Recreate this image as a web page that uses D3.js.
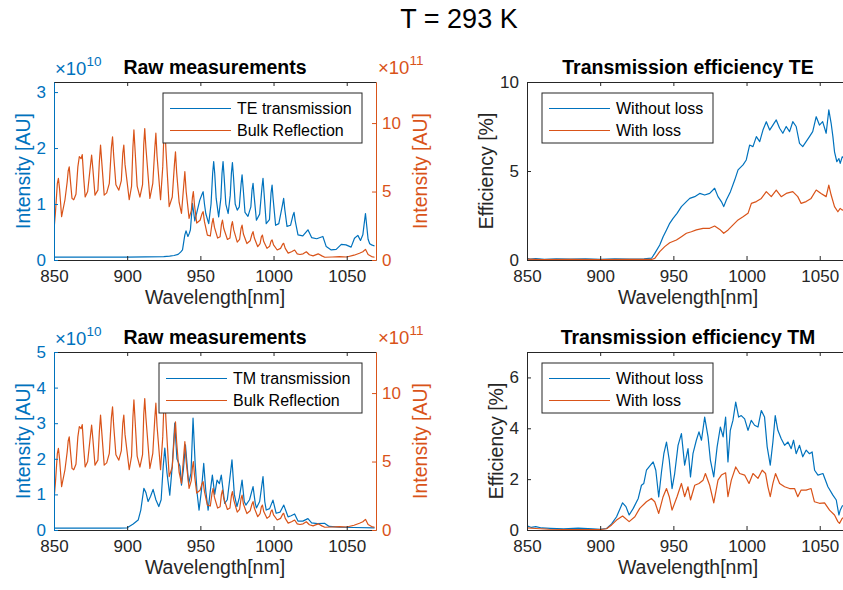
<!DOCTYPE html>
<html>
<head>
<meta charset="utf-8">
<script src="https://cdn.jsdelivr.net/npm/d3@7"></script>
<style>
body { margin: 0; background: #fff; }
svg { font-family: "Liberation Sans", Arial, sans-serif; }
</style>
</head>
<body>
<svg id="fig" width="843" height="590"></svg>
<script>
// T = 293 K : raw spectra and transmission efficiency, TE and TM

var xTicks = [850, 900, 950, 1000, 1050];

// Bulk reflection, units of 1e11 AU (same reference in both raw panels)
var bulkReflection = [[850,2.2],[851,3.5],[852.3,5.6],[853,5.96],[853.8,5.2],[855.2,3.16],[857.5,4.4],[859,5.7],[859.7,6.5],[860.4,6.8],[861.2,5.8],[862.3,4.5],[863.5,4.4],[865,4.8],[866.3,6.8],[867.3,7.55],[868.5,7.4],[869.3,7.7],[870.3,6.0],[871.3,4.6],[873,5.0],[874.5,6.5],[875.7,7.66],[876.6,6.6],[878,4.74],[880,5.1],[881,7.2],[881.8,8.4],[882.6,7.2],[884.3,4.74],[886,4.9],[887.8,5.6],[889.2,8.2],[890,9.0],[890.8,7.6],[892.3,5.5],[894.3,5.1],[896,5.8],[897,7.8],[897.7,8.4],[898.5,7.0],[901.4,4.4],[903,5.4],[903.9,8.2],[904.6,9.5],[905.4,8.0],[906.8,5.4],[908.7,4.6],[910.5,5.5],[911.3,8.4],[912,9.6],[912.8,8.2],[915.5,4.5],[917.5,5.6],[918.9,8.2],[919.6,9.26],[920.4,7.6],[922.8,4.4],[924.3,6.8],[925.1,9.2],[925.7,9.8],[926.5,8.0],[928.7,3.9],[930.8,4.6],[932.3,7.0],[933,7.9],[933.8,6.4],[935.5,4.2],[937.1,3.4],[938.6,5.4],[939.4,6.45],[940.3,5.0],[942.3,3.04],[943.8,3.6],[944.6,4.6],[945.2,5.0],[946,4.0],[947.5,2.7],[949.8,2.9],[951.2,3.4],[951.9,3.53],[952.8,2.8],[954.8,1.82],[956.8,1.75],[958,2.7],[958.7,3.04],[959.6,2.4],[961.8,1.6],[963.5,1.7],[964.4,2.6],[965.1,2.92],[966,2.3],[968.5,1.5],[970.2,1.6],[971.2,2.5],[971.9,2.8],[972.8,2.2],[975.2,1.3],[976.8,1.5],[977.8,2.3],[978.5,2.55],[979.4,1.9],[981.8,1.2],[984,1.4],[985.3,1.9],[986,2.07],[986.9,1.6],[989.2,0.97],[990.8,1.2],[991.7,1.7],[992.4,1.82],[993.3,1.35],[995.5,0.85],[997.3,1.0],[998.3,1.38],[999,1.46],[1000,1.1],[1002.5,0.73],[1004.8,0.85],[1006.2,1.15],[1006.9,1.22],[1008,0.85],[1010,0.5],[1012.3,0.6],[1014.4,0.73],[1016.2,0.45],[1018,0.4],[1020.2,0.45],[1022.4,0.6],[1024.5,0.38],[1027,0.3],[1030.5,0.45],[1033,0.3],[1035,0.2],[1040,0.22],[1045,0.25],[1050,0.22],[1055,0.35],[1058.7,0.49],[1061,0.6],[1062.8,0.78],[1064.6,0.4],[1067,0.25],[1069,0.2]];

// TE transmission, units of 1e10 AU
var teTransmission = [[850,0.05],[900,0.05],[925,0.06],[929,0.07],[932,0.08],[934.8,0.1],[936.5,0.14],[937.8,0.18],[938.8,0.35],[939.4,0.45],[940.2,0.52],[941.5,0.42],[942.5,0.48],[943.2,0.54],[944.6,1.01],[946.2,0.7],[947.6,0.85],[949.6,1.07],[951.2,1.18],[951.9,1.22],[952.8,1.0],[953.7,0.83],[955.7,0.65],[957.3,1.0],[958.4,1.55],[959.1,1.76],[959.8,1.55],[960.8,1.1],[962.5,0.77],[964,1.1],[964.8,1.55],[965.5,1.76],[966.2,1.5],[967.4,1.0],[969,0.83],[970.4,1.15],[971.2,1.55],[971.9,1.74],[972.6,1.5],[973.8,1.0],[975.2,0.89],[976.6,0.95],[977.8,1.35],[978.5,1.52],[979.2,1.3],[980.5,0.85],[982.5,0.78],[984.5,0.95],[985.3,1.25],[986,1.37],[986.7,1.15],[988.3,0.71],[990.5,0.82],[992.1,1.3],[992.8,1.46],[993.5,1.2],[995,0.65],[997.2,0.72],[998.3,1.2],[999,1.34],[999.7,1.1],[1001.4,0.62],[1003.6,0.65],[1006.2,1.0],[1006.9,1.1],[1007.7,0.9],[1009.2,0.6],[1011.6,0.62],[1013.3,0.8],[1014,0.85],[1014.8,0.7],[1016.7,0.45],[1020,0.43],[1023.5,0.54],[1026,0.4],[1029.5,0.38],[1033.7,0.42],[1036,0.24],[1039.4,0.18],[1042.8,0.19],[1046.3,0.28],[1049.5,0.27],[1053,0.23],[1055.3,0.39],[1057.6,0.44],[1059.4,0.35],[1061,0.45],[1062.8,0.83],[1064.6,0.37],[1065.7,0.29],[1067,0.27],[1069,0.25]];

// TM transmission, units of 1e10 AU
var tmTransmission = [[850,0.05],[895,0.05],[900,0.06],[904.1,0.17],[907.5,0.28],[909.3,0.56],[911.4,1.17],[912.8,1.05],[914.3,0.8],[916,0.95],[917.7,1.14],[919.6,0.85],[921.6,0.66],[923.2,0.85],[924.6,1.78],[925.7,2.3],[927.2,1.6],[929.1,0.98],[930.8,1.8],[932.5,3.0],[934,2.0],[936,1.8],[937.1,1.26],[938.4,1.7],[939.8,2.39],[942,1.3],[943.6,1.6],[945,3.14],[946.4,1.9],[947.8,1.03],[949.1,0.56],[950.7,1.1],[952.3,1.87],[953.7,1.1],[955.3,0.56],[956.8,1.1],[958.2,1.54],[959.8,1.0],[961.4,1.4],[963,1.3],[964.3,1.54],[966.6,0.75],[968.4,0.85],[970,1.4],[971.6,1.97],[973.2,1.0],[975,0.66],[976.6,0.9],[978.5,1.4],[980,0.8],[981.1,0.7],[983.6,0.85],[986,1.22],[987.5,0.75],[988.3,0.62],[990.5,0.8],[992.8,1.5],[994,0.8],[995,0.56],[997.3,0.6],[999.6,0.84],[1001.8,0.47],[1004.4,0.5],[1007,0.7],[1009.9,0.37],[1012,0.4],[1014.4,0.45],[1016.7,0.25],[1020,0.25],[1023.5,0.32],[1026,0.2],[1030,0.18],[1034.8,0.19],[1038,0.1],[1045,0.08],[1055,0.07],[1069,0.06]];

// Efficiency TE, percent
var effTeNoLoss = [[850,0.1],[852,0.05],[856,0.08],[862,0.04],[870,0.06],[880,0.05],[890,0.07],[900,0.04],[910,0.06],[920,0.05],[930,0.07],[935.1,0.1],[937.3,0.37],[940.7,0.84],[943,1.31],[945.3,1.69],[947.5,2.06],[949.8,2.34],[952.5,2.62],[955.5,3.0],[958.9,3.28],[961.2,3.46],[964.6,3.56],[968,3.74],[971.4,3.65],[974.8,3.74],[978.2,4.03],[980.5,3.56],[982.8,3.28],[984.4,3.0],[986.2,3.37],[989,3.84],[991.9,4.49],[994.2,5.06],[997.6,5.34],[999.8,5.62],[1002.1,6.46],[1004.4,6.37],[1006.7,6.93],[1009,6.65],[1011.2,7.3],[1013.5,7.77],[1015.8,7.3],[1018,7.58],[1020.3,7.87],[1022.6,7.4],[1024.8,7.12],[1027.1,7.5],[1029.4,7.21],[1031.6,7.77],[1033.9,7.5],[1036.2,6.55],[1038.4,6.37],[1040.7,6.65],[1043,6.93],[1045.2,7.21],[1047.6,8.05],[1049.8,7.58],[1052,7.77],[1054.4,7.12],[1056.2,8.43],[1057.8,7.68],[1059,6.93],[1060.1,6.08],[1061.7,5.52],[1063.1,5.7],[1064,5.43],[1065.4,5.8],[1067,5.7],[1069,5.9]];
var effTeLoss = [[850,0.05],[860,0.02],[880,0.03],[900,0.02],[920,0.03],[935,0.03],[937.3,0.09],[940.7,0.47],[944.1,0.75],[947.5,0.97],[952.1,1.12],[955.5,1.31],[958.9,1.5],[962.3,1.59],[965.7,1.69],[970.3,1.78],[974.8,1.78],[978.2,1.91],[981.7,1.72],[984.4,1.5],[987.4,1.69],[990.8,1.97],[994.2,2.25],[997.6,2.43],[1001,2.62],[1003.3,3.18],[1006.7,3.28],[1010.1,3.46],[1013.5,3.84],[1016.9,3.56],[1020.3,3.93],[1023.7,3.56],[1027.1,3.74],[1031.6,3.84],[1035,3.56],[1037.3,3.18],[1040.7,3.28],[1044.1,3.46],[1047.6,3.93],[1050.9,3.74],[1054.4,3.56],[1056.2,4.21],[1057.8,3.65],[1060.1,3.0],[1062.4,2.71],[1064,2.9],[1065.4,2.8],[1067,2.85],[1069,2.9]];

// Efficiency TM, percent
var effTmNoLoss = [[850,0.16],[853,0.1],[856,0.13],[860,0.08],[866,0.065],[875,0.05],[885,0.07],[895,0.05],[900,0.03],[904.4,0.06],[907.8,0.24],[911.2,0.52],[915.3,1.07],[917.6,0.92],[919.8,0.59],[922.6,0.85],[926,1.24],[928.2,1.76],[929.8,1.83],[931.6,2.35],[933.4,2.48],[936.2,2.68],[938,2.35],[940,1.3],[941.9,2.29],[943.5,3.0],[945.3,3.46],[947.2,2.75],[949.1,1.63],[950.9,2.22],[953.2,3.33],[955.5,3.79],[957.7,2.55],[960,3.2],[961.7,2.09],[963.4,3.0],[965.7,3.53],[967.5,3.86],[969.2,3.53],[971.4,4.44],[973.7,3.66],[975.3,2.75],[977.6,2.09],[979.9,3.27],[982.1,4.05],[984,3.66],[985.7,4.44],[987.3,2.68],[988.9,3.92],[990.7,4.31],[992.6,5.03],[994.6,4.44],[996.4,4.5],[998.7,4.37],[1001,3.92],[1003.2,4.31],[1005.5,4.12],[1007.8,4.05],[1010.1,4.7],[1012.3,4.44],[1014.1,3.27],[1016.2,2.55],[1018,3.46],[1019.6,4.5],[1021.4,3.92],[1023.7,3.59],[1026,3.33],[1028.3,3.46],[1030.5,3.2],[1032.1,3.53],[1033.9,3.0],[1036.2,3.33],[1038.4,2.88],[1040.7,3.14],[1043,3.0],[1044.8,3.07],[1046.5,2.35],[1048.8,2.16],[1052.2,2.22],[1055.6,1.7],[1059,1.37],[1061.3,1.18],[1063.1,0.59],[1064,0.78],[1065.4,0.94],[1067,1.0],[1069,1.05]];
var effTmLoss = [[850,0.08],[856,0.06],[865,0.03],[880,0.02],[900,0.02],[904.4,0.05],[907.8,0.2],[911.2,0.39],[915.3,0.55],[919.8,0.33],[923.7,0.52],[927,0.85],[931.6,1.11],[935,1.24],[937.3,1.11],[940,0.65],[943,1.31],[945.3,1.63],[947.2,1.31],[949.1,0.78],[952.5,1.31],[955.5,1.83],[957.7,1.31],[960,1.7],[961.7,1.18],[964.6,1.76],[967.5,1.83],[970.3,1.96],[971.9,2.22],[974.8,1.76],[977.6,1.07],[980.5,1.96],[982.8,2.16],[985.7,2.25],[987.3,1.31],[989.6,1.96],[992.6,2.48],[995.3,2.22],[998.7,2.16],[1001.7,1.83],[1004.4,2.22],[1007.8,2.03],[1010.7,2.35],[1013,2.22],[1014.6,1.7],[1016.2,1.31],[1018,1.83],[1019.8,2.22],[1022.6,1.83],[1026,1.7],[1029.4,1.63],[1032.8,1.63],[1035,1.31],[1037.3,1.57],[1040.7,1.57],[1044.1,1.63],[1046.4,1.11],[1049.8,1.05],[1053.3,1.07],[1056.7,0.78],[1060.1,0.59],[1062.4,0.33],[1063.5,0.26],[1065.4,0.46],[1067,0.5],[1069,0.5]];

var blue = "#0072BD", orange = "#D95319", dark = "#262626";
var tickFont = "17px", labelFont = "19.5px", legendFont = "16px";
var W = 322, H = 178;
var fmt = d3.format("d");

var svg = d3.select("#fig");

svg.append("text")
	.attr("x", 459).attr("y", 28)
	.attr("text-anchor", "middle")
	.attr("font-size", "27px")
	.attr("fill", "#000")
	.text("T = 293 K");

function styleAxis(sel, color, textColor) {
	sel.attr("font-size", null).attr("font-family", null);
	sel.select(".domain").attr("stroke", color).attr("stroke-width", 1);
	sel.selectAll(".tick line").attr("stroke", color).attr("stroke-width", 1);
	sel.selectAll(".tick text").attr("fill", textColor).style("font-size", tickFont);
}

function drawPanel(p) {
	var g = svg.append("g");
	var left = p.left, top = p.top, bottom = top + H, right = left + W;

	var x = d3.scaleLinear().domain([850, 1070]).range([left, right]);
	var yL = d3.scaleLinear().domain(p.yDomain).range([bottom, top]);
	var yR = p.rDomain ? d3.scaleLinear().domain(p.rDomain).range([bottom, top]) : null;

	svg.append("clipPath").attr("id", "clip-" + p.id)
		.append("rect").attr("x", left).attr("y", top).attr("width", W).attr("height", H);

	var plot = g.append("g").attr("clip-path", "url(#clip-" + p.id + ")");
	p.series.forEach(s => {
		var y = s.right ? yR : yL;
		plot.append("path")
			.datum(s.data)
			.attr("fill", "none")
			.attr("stroke", s.color)
			.attr("stroke-width", 1.2)
			.attr("stroke-linejoin", "round")
			.attr("d", d3.line().x(d => x(d[0])).y(d => y(d[1])));
	});

	// box: bottom/top gray, sides coloured for yyaxis
	var ax = g.append("g").attr("transform", "translate(0," + bottom + ")")
		.call(d3.axisBottom(x).tickValues(xTicks).tickFormat(fmt).tickSizeInner(-4).tickSizeOuter(0).tickPadding(10));
	styleAxis(ax, dark, dark);
	var axTop = g.append("g").attr("transform", "translate(0," + top + ")")
		.call(d3.axisTop(x).tickValues(xTicks).tickSizeInner(-4).tickSizeOuter(0).tickFormat(""));
	styleAxis(axTop, dark, dark);

	var ayL = g.append("g").attr("transform", "translate(" + left + ",0)")
		.call(d3.axisLeft(yL).tickValues(p.yTicks).tickFormat(fmt).tickSizeInner(-4).tickSizeOuter(0).tickPadding(8));
	styleAxis(ayL, p.leftColor, p.leftColor);

	if (yR) {
		var ayR = g.append("g").attr("transform", "translate(" + right + ",0)")
			.call(d3.axisRight(yR).tickValues(p.rTicks).tickFormat(fmt).tickSizeInner(-4).tickSizeOuter(0).tickPadding(6));
		styleAxis(ayR, orange, orange);
	} else {
		var ayR2 = g.append("g").attr("transform", "translate(" + right + ",0)")
			.call(d3.axisRight(yL).tickValues(p.yTicks).tickSizeInner(-4).tickSizeOuter(0).tickFormat(""));
		styleAxis(ayR2, dark, dark);
	}

	// titles and labels
	g.append("text")
		.attr("x", (left + right) / 2).attr("y", top - 8.5)
		.attr("text-anchor", "middle")
		.attr("font-size", labelFont).attr("font-weight", "bold")
		.attr("fill", "#000")
		.text(p.title);

	g.append("text")
		.attr("x", (left + right) / 2).attr("y", bottom + 44)
		.attr("text-anchor", "middle")
		.attr("font-size", labelFont).attr("fill", dark)
		.text("Wavelength[nm]");

	g.append("text")
		.attr("transform", "translate(" + p.yLabelX + "," + (top + H / 2) + ") rotate(-90)")
		.attr("text-anchor", "middle")
		.attr("font-size", labelFont).attr("fill", p.leftColor)
		.text(p.yLabel);

	if (yR) {
		g.append("text")
			.attr("transform", "translate(" + (right + 51) + "," + (top + H / 2) + ") rotate(-90)")
			.attr("text-anchor", "middle")
			.attr("font-size", labelFont).attr("fill", orange)
			.text("Intensity [AU]");
	}

	// exponent labels
	if (p.leftExp) {
		var t1 = g.append("text").attr("x", left + 1).attr("y", top - 7)
			.attr("font-size", "18.5px").attr("fill", blue);
		t1.append("tspan").text("\u00d710");
		t1.append("tspan").attr("dy", -9).attr("font-size", "13.5px").text(p.leftExp);
	}
	if (p.rightExp) {
		var t2 = g.append("text").attr("x", right + 2).attr("y", top - 8)
			.attr("font-size", "18.5px").attr("fill", orange);
		t2.append("tspan").text("\u00d710");
		t2.append("tspan").attr("dy", -9).attr("font-size", "13.5px").text(p.rightExp);
	}

	// legend
	var L = p.legend;
	var lg = g.append("g");
	lg.append("rect")
		.attr("x", L.x).attr("y", L.y).attr("width", L.w).attr("height", 50)
		.attr("fill", "#fff").attr("stroke", dark).attr("stroke-width", 1);
	p.series.forEach((s, i) => {
		var cy = L.y + 15.5 + i * 22;
		lg.append("line")
			.attr("x1", L.x + 7).attr("x2", L.x + 68)
			.attr("y1", cy).attr("y2", cy)
			.attr("stroke", s.color).attr("stroke-width", 1.2);
		lg.append("text")
			.attr("x", L.x + 74).attr("y", cy + 5.8)
			.attr("font-size", legendFont).attr("fill", "#000")
			.text(s.name);
	});
}

drawPanel({
	id: "rawTE", left: 54, top: 82, title: "Raw measurements",
	yDomain: [0, 3.18], yTicks: [0, 1, 2, 3], rDomain: [0, 13], rTicks: [0, 5, 10],
	leftColor: blue, yLabel: "Intensity [AU]", yLabelX: 30, leftExp: "10", rightExp: "11",
	legend: { x: 163, y: 93, w: 199 },
	series: [
		{ name: "TE transmission", data: teTransmission, color: blue },
		{ name: "Bulk Reflection", data: bulkReflection, color: orange, right: true }
	]
});

drawPanel({
	id: "effTE", left: 527, top: 82, title: "Transmission efficiency TE",
	yDomain: [0, 10], yTicks: [0, 5, 10],
	leftColor: dark, yLabel: "Efficiency [%]", yLabelX: 493,
	legend: { x: 542, y: 93, w: 171 },
	series: [
		{ name: "Without loss", data: effTeNoLoss, color: blue },
		{ name: "With loss", data: effTeLoss, color: orange }
	]
});

drawPanel({
	id: "rawTM", left: 54, top: 352, title: "Raw measurements",
	yDomain: [0, 5], yTicks: [0, 1, 2, 3, 4, 5], rDomain: [0, 13], rTicks: [0, 5, 10],
	leftColor: blue, yLabel: "Intensity [AU]", yLabelX: 30, leftExp: "10", rightExp: "11",
	legend: { x: 159, y: 363, w: 203 },
	series: [
		{ name: "TM transmission", data: tmTransmission, color: blue },
		{ name: "Bulk Reflection", data: bulkReflection, color: orange, right: true }
	]
});

drawPanel({
	id: "effTM", left: 527, top: 352, title: "Transmission efficiency TM",
	yDomain: [0, 7], yTicks: [0, 2, 4, 6],
	leftColor: dark, yLabel: "Efficiency [%]", yLabelX: 503,
	legend: { x: 542, y: 363, w: 171 },
	series: [
		{ name: "Without loss", data: effTmNoLoss, color: blue },
		{ name: "With loss", data: effTmLoss, color: orange }
	]
});
</script>
</body>
</html>
